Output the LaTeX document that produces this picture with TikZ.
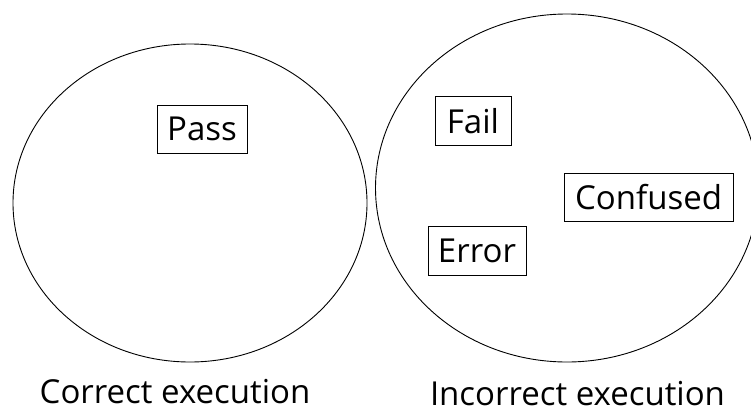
\documentclass[tikz,border=0pt]{standalone}
\usepackage{fontspec}
\setmainfont{Open Sans}
\usetikzlibrary{shapes.geometric}
\begin{document}
\begin{tikzpicture}[x=1pt,y=-1pt,
  region/.style={ellipse,draw,line width=0.9pt,inner sep=0pt,outer sep=0pt},
  outcome/.style={rectangle,draw,line width=0.8pt,inner sep=0pt,font=\fontsize{33}{36}\selectfont},
  caption/.style={inner sep=0pt,font=\fontsize{33}{36}\selectfont}]
  \clip (0,0) rectangle (751,412);
  \useasboundingbox (0,0) rectangle (751,412);
  % the two execution regions
  \node[region,minimum width=354pt,minimum height=318pt] (correct) at (190,203) {};
  \node[region,minimum width=383pt,minimum height=348pt] (incorrect) at (567,188) {};
  % outcomes
  \node[outcome,minimum width=90pt,minimum height=48pt] (pass) at (202,129) {Pass};
  \node[outcome,minimum width=76pt,minimum height=49pt] (fail) at (473,121) {Fail};
  \node[outcome,minimum width=169pt,minimum height=48pt] (confused) at (648.5,197.5) {Confused};
  \node[outcome,minimum width=98pt,minimum height=49pt] (error) at (477,250.5) {Error};
  % captions
  \node[caption,anchor=base] (lcorrect) at (175,403) {Correct execution};
  \node[caption,anchor=base] (lincorrect) at (577.5,405) {Incorrect execution};
\end{tikzpicture}
\end{document}
